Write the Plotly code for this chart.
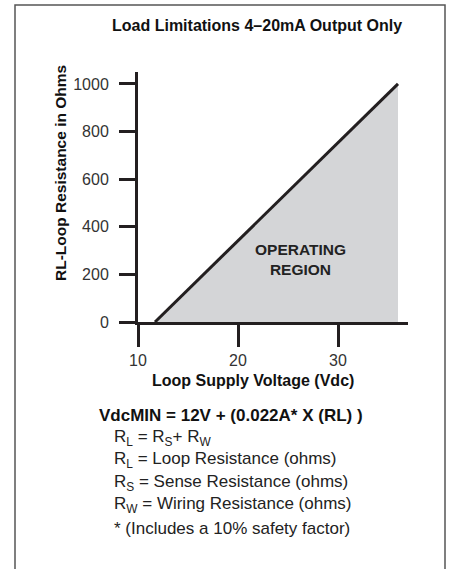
import plotly.graph_objects as go

# Data
x_line = [11.7, 36.0]          # Loop Supply Voltage (Vdc)
y_line = [0, 1000]             # RL - Loop Resistance (Ohms)
x_ticks = [10, 20, 30]
y_ticks = [0, 200, 400, 600, 800, 1000]

W, H = 450, 569
L, R, T, B = 138, 42, 72, 247
PW, PH = W - L - R, H - T - B

def px(x):
    return (x - L) / PW

def py(y):
    return (H - B - y) / PH

DARK = "#231f20"
SANS = "Liberation Sans, Arial, Helvetica, sans-serif"

fig = go.Figure()

# Operating region fill
fig.add_trace(go.Scatter(
    x=x_line + [x_line[-1]], y=y_line + [y_line[0]],
    fill="toself", fillcolor="#d4d5d7", mode="none",
    hoverinfo="skip", showlegend=False,
))
# Limit line
fig.add_trace(go.Scatter(
    x=x_line, y=y_line, mode="lines",
    line=dict(color=DARK, width=3), showlegend=False,
))

fig.update_xaxes(
    range=[10, 37], showgrid=False, zeroline=False,
    showline=True, linecolor=DARK, linewidth=3,
    ticks="outside", ticklen=22, tickwidth=3, tickcolor=DARK,
    tickvals=x_ticks, ticklabelstandoff=0,
    tickfont=dict(family=SANS, size=16, color="#333333"),
)
fig.update_yaxes(
    range=[0, 1050], showgrid=False, zeroline=False,
    showline=True, linecolor=DARK, linewidth=3,
    ticks="outside", ticklen=16, tickwidth=3, tickcolor=DARK,
    tickvals=y_ticks, ticklabelstandoff=7,
    tickfont=dict(family=SANS, size=16, color="#333333"),
)

def note(text, x, y, size, xanchor="center", ref="paper", angle=0, color="#111"):
    return dict(text=text, x=x, y=y, xref=ref, yref=ref, xanchor=xanchor,
                yanchor="middle", showarrow=False, textangle=angle,
                font=dict(family=SANS, size=size, color=color))

ann = [
    note("<b>Load Limitations 4–20mA Output Only</b>", px(257), py(25), 16),
    note("<b>Loop Supply Voltage (Vdc)</b>", px(253), py(380), 16),
    note("<b>RL-Loop Resistance in Ohms</b>", px(60), py(173), 15.5, angle=-90),
    note("<b>OPERATING<br>REGION</b>", 26.2, 262, 15.5, ref="x", color="#222"),
    note("<b>VdcMIN = 12V + (0.022A* X (RL) )</b>", px(97), py(415), 17, xanchor="left"),
]
ann[3]["yref"] = "y"

lines = [
    "R<sub>L</sub> = R<sub>S</sub>+ R<sub>W</sub>",
    "R<sub>L</sub> = Loop Resistance (ohms)",
    "R<sub>S</sub> = Sense Resistance (ohms)",
    "R<sub>W</sub> = Wiring Resistance (ohms)",
    "* (Includes a 10% safety factor)",
]
ys = [438, 460, 483, 505, 528]
for t, yy in zip(lines, ys):
    ann.append(note(t, px(112), py(yy), 17, xanchor="left", color="#222"))

fig.update_layout(
    width=W, height=H,
    margin=dict(l=L, r=R, t=T, b=B),
    paper_bgcolor="white", plot_bgcolor="white",
    annotations=ann,
    shapes=[dict(type="rect", xref="paper", yref="paper",
                 x0=px(15), x1=px(445), y0=py(600), y1=py(5),
                 line=dict(color="#555555", width=1.5), layer="below")],
)

fig.write_html("out.html",
               config={"displayModeBar": False},
               post_script="document.body.style.margin='0';document.body.style.overflow='hidden';")
